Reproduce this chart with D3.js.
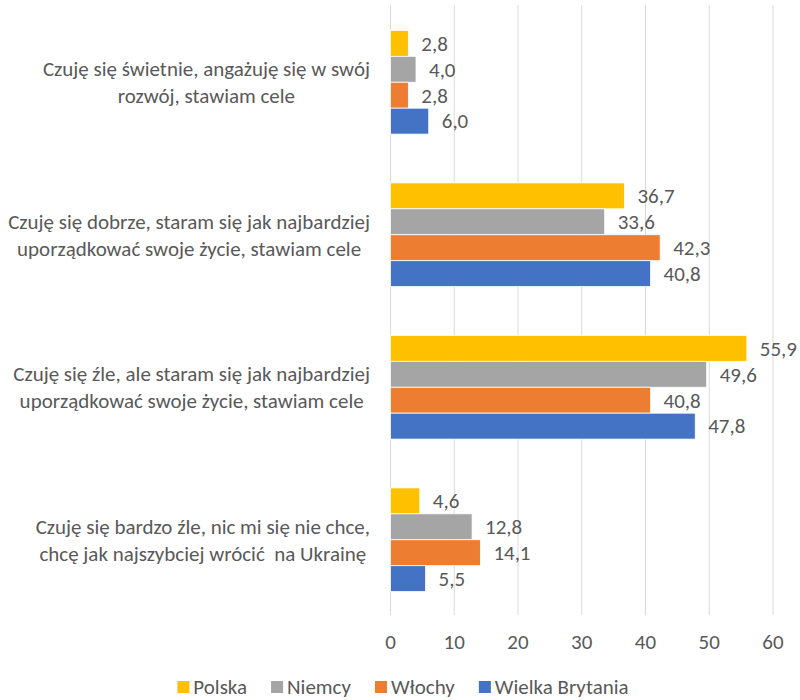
<!DOCTYPE html>
<html>
<head>
<meta charset="utf-8">
<script src="https://cdn.jsdelivr.net/npm/d3@7"></script>
<style>
  body { margin: 0; background: #fff; }
  text { font-family: Calibri, Carlito, Lato, sans-serif; fill: #595959; white-space: pre; }
</style>
</head>
<body>
<div id="chart"></div>
<script>
// Categories (each one is two lines of text on the axis)
var categories = [
	["Czuję się świetnie, angażuję się w swój", "rozwój, stawiam cele"],
	["Czuję się dobrze, staram się jak najbardziej", "uporządkować swoje życie, stawiam cele"],
	["Czuję się źle, ale staram się jak najbardziej", "uporządkować swoje życie, stawiam cele"],
	["Czuję się bardzo źle, nic mi się nie chce,", "chcę jak najszybciej wrócić  na Ukrainę"]
];
var series = ["Polska", "Niemcy", "Włochy", "Wielka Brytania"];
var colors = ["#FFC000", "#A5A5A5", "#ED7D31", "#4472C4"];

var polska = [2.8, 36.7, 55.9, 4.6];
var niemcy = [4.0, 33.6, 49.6, 12.8];
var wlochy = [2.8, 42.3, 40.8, 14.1];
var wielkaBrytania = [6.0, 40.8, 47.8, 5.5];
var values = [polska, niemcy, wlochy, wielkaBrytania];

var xTicks = [0, 10, 20, 30, 40, 50, 60];

var width = 800, height = 700;
var plot = { left: 390.5, right: 773, top: 6, bottom: 616 };
var labelRight = 370;

var svg = d3.select("#chart").append("svg")
	.attr("width", width)
	.attr("height", height);

var x = d3.scaleLinear()
	.domain([0, 60])
	.range([plot.left, plot.right]);

var y0 = d3.scaleBand()
	.domain(d3.range(categories.length))
	.range([plot.top, plot.bottom]);

var groupH = y0.bandwidth() * 0.68;
var y1 = d3.scaleBand()
	.domain(d3.range(series.length))
	.range([(y0.bandwidth() - groupH) / 2, (y0.bandwidth() + groupH) / 2]);

// Figure out a font size so the widest label line is about 362px wide.
var probe = svg.append("text").style("font-size", "18px").text(categories[1][0]);
var fs = 18 * 362 / probe.node().getComputedTextLength();
probe.remove();

// Gridlines
svg.append("g").selectAll("line")
	.data(xTicks)
	.enter().append("line")
	.attr("x1", function(d) { return x(d); })
	.attr("x2", function(d) { return x(d); })
	.attr("y1", plot.top - 1)
	.attr("y2", plot.bottom - 1)
	.attr("stroke", "#d9d9d9")
	.attr("stroke-width", 1);

// Tick labels
svg.append("g").selectAll("text")
	.data(xTicks)
	.enter().append("text")
	.attr("x", function(d) { return x(d); })
	.attr("y", 642)
	.attr("dy", "0.35em")
	.attr("text-anchor", "middle")
	.style("font-size", fs + "px")
	.text(function(d) { return d; });

// Bars
var groups = svg.append("g").selectAll("g")
	.data(categories)
	.enter().append("g")
	.attr("transform", function(d, i) { return "translate(0," + y0(i) + ")"; });

groups.selectAll("rect")
	.data(function(d, ci) { return series.map(function(s, si) { return { s: si, v: values[si][ci] }; }); })
	.enter().append("rect")
	.attr("x", x(0))
	.attr("y", function(d) { return y1(d.s); })
	.attr("width", function(d) { return x(d.v) - x(0); })
	.attr("height", y1.bandwidth())
	.attr("fill", function(d) { return colors[d.s]; })
	.attr("stroke", "#fff")
	.attr("stroke-width", 0.8);

groups.selectAll("text.val")
	.data(function(d, ci) { return series.map(function(s, si) { return { s: si, v: values[si][ci] }; }); })
	.enter().append("text")
	.attr("class", "val")
	.attr("x", function(d) { return x(d.v) + 13; })
	.attr("y", function(d) { return y1(d.s) + y1.bandwidth() / 2; })
	.attr("dy", "0.35em")
	.style("font-size", fs + "px")
	.text(function(d) { return d.v.toFixed(1).replace(".", ","); });

// Category labels, centred lines, block right-aligned to the axis
var catLabels = svg.append("g").selectAll("text")
	.data(categories)
	.enter().append("text")
	.attr("text-anchor", "middle")
	.attr("xml:space", "preserve")
	.style("font-size", fs + "px");

catLabels.each(function(lines, i) {
	var t = d3.select(this);
	var cy = y0(i) + y0.bandwidth() / 2;
	var spans = t.selectAll("tspan")
		.data(lines)
		.enter().append("tspan")
		.attr("y", function(d, j) { return cy + (j - 0.5) * 27; })
		.attr("dy", "0.35em")
		.text(function(d) { return d; });
	var maxW = 0;
	spans.each(function() { maxW = Math.max(maxW, this.getComputedTextLength()); });
	spans.attr("x", labelRight - maxW / 2);
});

// Legend
var legend = svg.append("g");
var lx = 0;
var items = legend.selectAll("g")
	.data(series)
	.enter().append("g");
items.append("rect")
	.attr("width", 12)
	.attr("height", 12)
	.attr("y", -6)
	.attr("fill", function(d, i) { return colors[i]; });
items.append("text")
	.attr("x", 16)
	.attr("dy", "0.35em")
	.style("font-size", fs + "px")
	.text(function(d) { return d; });
items.each(function() {
	var w = 16 + d3.select(this).select("text").node().getComputedTextLength();
	d3.select(this).attr("transform", "translate(" + lx + ",0)");
	lx += w + 24;
});
lx -= 24;
legend.attr("transform", "translate(" + (403 - lx / 2) + ",687)");
</script>
</body>
</html>
